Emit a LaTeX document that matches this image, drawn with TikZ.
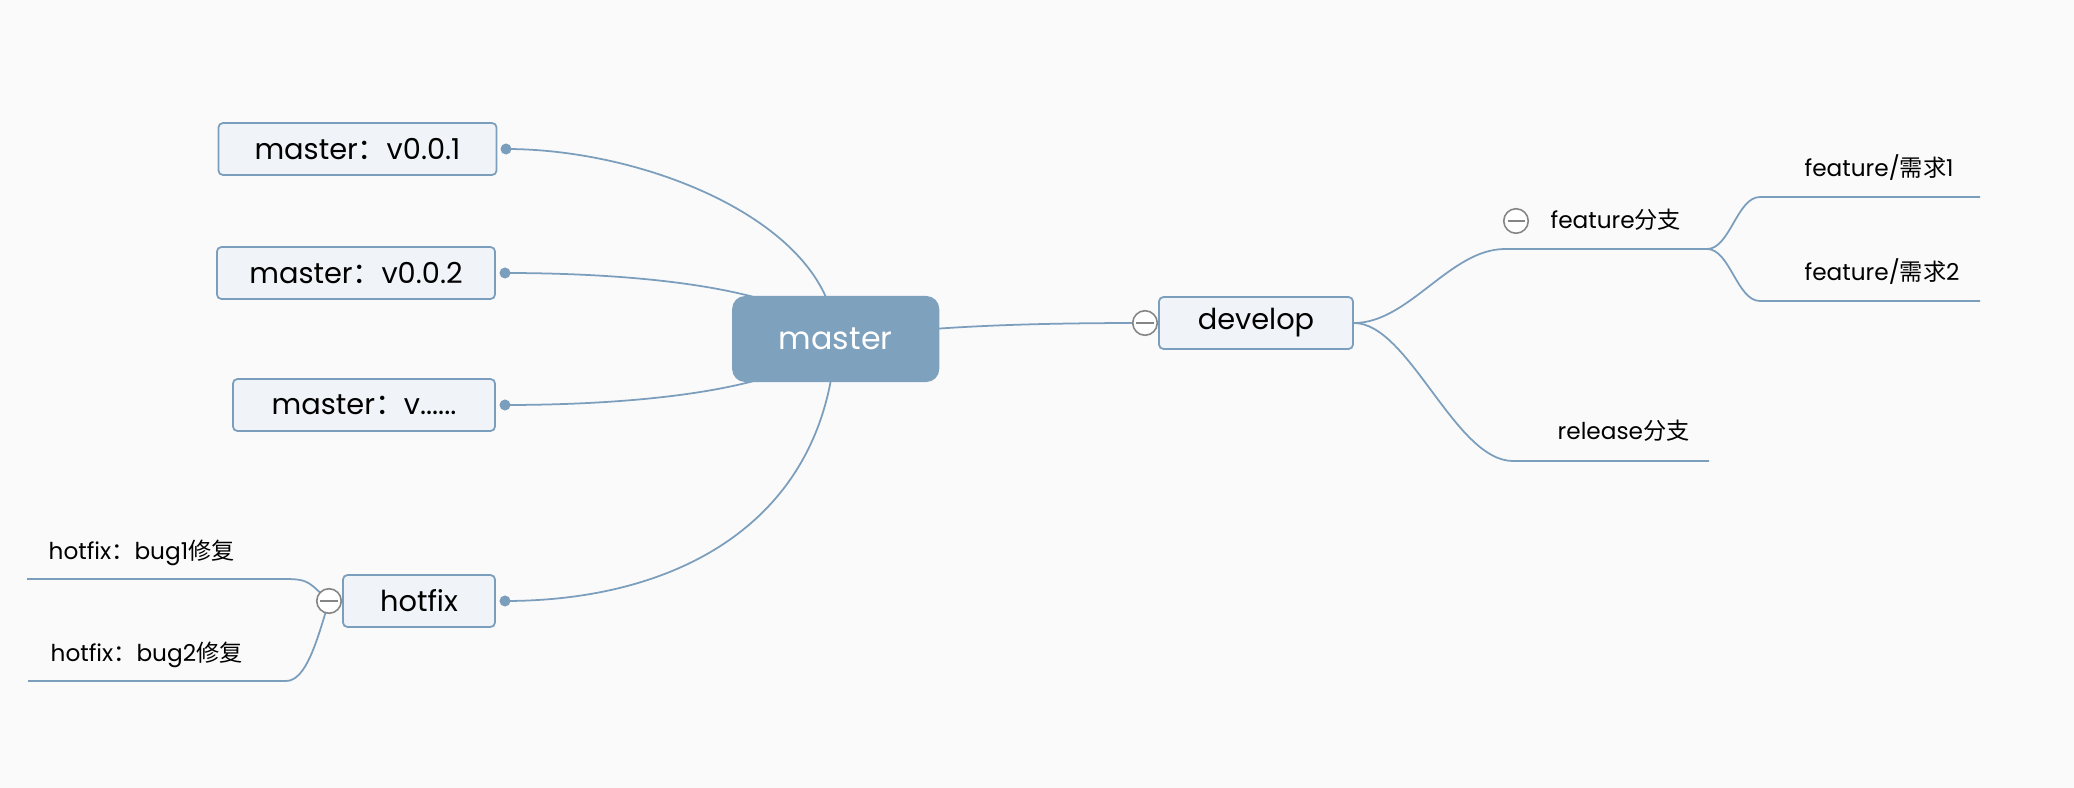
\documentclass[tikz,border=0pt]{standalone}
\usepackage{fontspec}
\setmainfont{Poppins}
\newfontfamily\cjk{Noto Sans CJK SC}
\usetikzlibrary{backgrounds}
\definecolor{bgcol}{HTML}{FAFAFA}
\definecolor{linecol}{HTML}{7B9EBD}
\definecolor{boxfill}{HTML}{F0F4F8}
\definecolor{rootfill}{HTML}{7EA1BE}
\definecolor{foldgray}{HTML}{858585}
\newcommand\zh[1]{{\cjk #1}}
\begin{document}
\begin{tikzpicture}[x=0.01cm,y=-0.01cm,
  topic/.style={draw=linecol,fill=boxfill,line width=0.5pt,rounded corners=1.3pt,
    minimum height=0.52cm,inner sep=0pt,font=\fontsize{8.2}{10}\selectfont},
  root/.style={fill=rootfill,text=white,rounded corners=3.7pt,minimum width=2.07cm,
    minimum height=0.86cm,font=\fontsize{9}{11}\selectfont},
  leaf/.style={anchor=base west,inner sep=0pt,font=\fontsize{6.6}{8}\selectfont},
  link/.style={draw=linecol,line width=0.5pt},
  dot/.style={circle,fill=linecol,inner sep=0pt,minimum size=0.11cm},
  fold/.style={circle,draw=foldgray,fill=white,line width=0.45pt,inner sep=0pt,minimum size=0.245cm,
    path picture={\draw[foldgray,line width=0.5pt]
      ([xshift=-0.085cm]path picture bounding box.center) -- ([xshift=0.085cm]path picture bounding box.center);}}]
\useasboundingbox (0,0) rectangle (2074,788);
% topics
\node[root] (master) at (835.7,339) {master};
\node[topic,minimum width=2.78cm] (v1) at (357.5,149) {master\zh{：}v0.0.1};
\node[topic,minimum width=2.78cm] (v2) at (356,273) {master\zh{：}v0.0.2};
\node[topic,minimum width=2.62cm] (v3) at (364,405) {master\zh{：}v......};
\node[topic,minimum width=1.52cm] (hotfix) at (419,601) {hotfix};
\node[topic,minimum width=1.94cm] (develop) at (1256,323) {develop};
\node[dot] (v1dot) at (506,149) {};
\node[dot] (v2dot) at (505,273) {};
\node[dot] (v3dot) at (505,405) {};
\node[dot] (hdot) at (505,601) {};
\node[fold] (hfold) at (329,601) {};
\node[fold] (dfold) at (1145,323) {};
\node[fold] (ffold) at (1516,221) {};
% leaves
\node[leaf] (bug1) at (48,560) {hotfix\zh{：}bug1\zh{修复}};
\node[leaf] (bug2) at (50,662) {hotfix\zh{：}bug2\zh{修复}};
\node[leaf] (feat) at (1550,229) {feature\zh{分支}};
\node[leaf] (feat1) at (1804,177) {feature/\zh{需求}1};
\node[leaf] (feat2) at (1804,281) {feature/\zh{需求}2};
\node[leaf] (rel) at (1557,440) {release\zh{分支}};
\coordinate (b1a) at (285,579);
\coordinate (b1b) at (27,579);
\coordinate (b2a) at (286,681);
\coordinate (b2b) at (28,681);
\coordinate (fa) at (1505,249);
\coordinate (fb) at (1707,249);
\coordinate (f1a) at (1760,197);
\coordinate (f1b) at (1980,197);
\coordinate (f2a) at (1760,301);
\coordinate (f2b) at (1980,301);
\coordinate (ra) at (1513,461);
\coordinate (rb) at (1709,461);
\begin{pgfonlayer}{background}
\fill[bgcol] (0,0) rectangle (2074,788);
% master links
\draw[link] (master.center) .. controls (832,225) and (650,149) .. (v1dot.center);
\draw[link] (master.center) .. controls (795,288) and (640,273) .. (v2dot.center);
\draw[link] (master.center) .. controls (795,390) and (640,405) .. (v3dot.center);
\draw[link] (master.center) .. controls (826,520) and (680,601) .. (hdot.center);
\draw[link] (master.center) .. controls +(100,-14) and +(-100,0) .. (dfold.center);
% hotfix links
\draw[link] (hfold.center) .. controls +(-20,-18) and +(25,0) .. (b1a) -- (b1b);
\draw[link] (hfold.center) .. controls +(-12,40) and +(20,0) .. (b2a) -- (b2b);
% develop links
\draw[link] (develop.east) .. controls +(55,0) and +(-55,0) .. (fa) -- (fb);
\draw[link] (develop.east) .. controls +(55,0) and +(-58,0) .. (ra) -- (rb);
\draw[link] (fb) .. controls +(23,0) and +(-23,0) .. (f1a) -- (f1b);
\draw[link] (fb) .. controls +(23,0) and +(-23,0) .. (f2a) -- (f2b);
\end{pgfonlayer}
\end{tikzpicture}
\end{document}
